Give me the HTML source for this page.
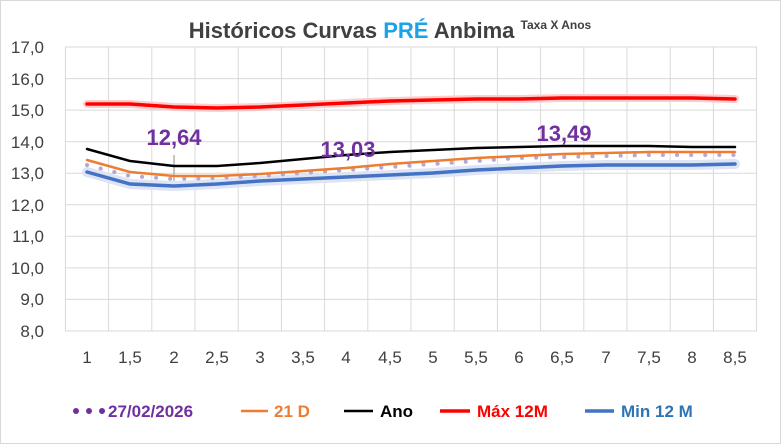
<!DOCTYPE html><html><head><style>body{margin:0;background:#fff}svg{display:block;font-family:"Liberation Sans",sans-serif}</style></head><body>
<svg width="781" height="444" viewBox="0 0 781 444">
<rect x="0.5" y="0.5" width="780" height="443" fill="#fff" stroke="#d9d9d9"/>
<text x="390" y="38" text-anchor="middle" font-size="22" font-weight="bold" fill="#404040">Históricos Curvas <tspan fill="#1aa3e8">PRÉ</tspan> Anbima <tspan font-size="12" dy="-9">Taxa X Anos</tspan></text>
<g stroke="#d9d9d9" stroke-width="1">
<line x1="65" x2="757" y1="47" y2="47"/><line x1="65" x2="757" y1="78.6" y2="78.6"/><line x1="65" x2="757" y1="110.1" y2="110.1"/><line x1="65" x2="757" y1="141.7" y2="141.7"/><line x1="65" x2="757" y1="173.2" y2="173.2"/><line x1="65" x2="757" y1="204.8" y2="204.8"/><line x1="65" x2="757" y1="236.3" y2="236.3"/><line x1="65" x2="757" y1="267.9" y2="267.9"/><line x1="65" x2="757" y1="299.4" y2="299.4"/><line x1="65" x2="757" y1="331" y2="331"/>
<line x1="65.4" x2="65.4" y1="47" y2="331"/><line x1="108.6" x2="108.6" y1="47" y2="331"/><line x1="151.8" x2="151.8" y1="47" y2="331"/><line x1="195" x2="195" y1="47" y2="331"/><line x1="238.2" x2="238.2" y1="47" y2="331"/><line x1="281.4" x2="281.4" y1="47" y2="331"/><line x1="324.6" x2="324.6" y1="47" y2="331"/><line x1="367.8" x2="367.8" y1="47" y2="331"/><line x1="411" x2="411" y1="47" y2="331"/><line x1="454.2" x2="454.2" y1="47" y2="331"/><line x1="497.4" x2="497.4" y1="47" y2="331"/><line x1="540.6" x2="540.6" y1="47" y2="331"/><line x1="583.8" x2="583.8" y1="47" y2="331"/><line x1="627" x2="627" y1="47" y2="331"/><line x1="670.2" x2="670.2" y1="47" y2="331"/><line x1="713.4" x2="713.4" y1="47" y2="331"/><line x1="756.6" x2="756.6" y1="47" y2="331"/>
</g>
<g font-size="17" fill="#404040" text-anchor="end">
<text x="44" y="53">17,0</text><text x="44" y="85">16,0</text><text x="44" y="116">15,0</text><text x="44" y="148">14,0</text><text x="44" y="179">13,0</text><text x="44" y="211">12,0</text><text x="44" y="242">11,0</text><text x="44" y="274">10,0</text><text x="44" y="305">9,0</text><text x="44" y="337">8,0</text>
</g>
<g font-size="17" fill="#404040" text-anchor="middle">
<text x="87" y="363">1</text><text x="130" y="363">1,5</text><text x="174" y="363">2</text><text x="217" y="363">2,5</text><text x="260" y="363">3</text><text x="303" y="363">3,5</text><text x="346" y="363">4</text><text x="390" y="363">4,5</text><text x="433" y="363">5</text><text x="476" y="363">5,5</text><text x="519" y="363">6</text><text x="562" y="363">6,5</text><text x="606" y="363">7</text><text x="649" y="363">7,5</text><text x="692" y="363">8</text><text x="735" y="363">8,5</text>
</g>
<line x1="174" x2="174" y1="155" y2="186" stroke="#a0a0a0" stroke-width="1.2"/>
<g fill="none" stroke-linejoin="round" stroke-linecap="round">
<polyline stroke="#ffcccc" stroke-width="8" points="87,104 130,104 174,107 217,108 260,107 303,105 346,103 390,101 433,100 476,99 519,99 562,98 606,98 649,98 692,98 735,99"/>
<polyline stroke="#ff0000" stroke-width="3.5" points="87,104 130,104 174,107 217,108 260,107 303,105 346,103 390,101 433,100 476,99 519,99 562,98 606,98 649,98 692,98 735,99"/>
<polyline stroke="#dde4f4" stroke-width="10" points="87,172 130,184 174,186 217,184 260,181 303,179 346,177 390,175 433,173 476,170 519,168 562,166 606,165 649,165 692,165 735,164"/>
<polyline stroke="#4472c4" stroke-width="3.5" points="87,172 130,184 174,186 217,184 260,181 303,179 346,177 390,175 433,173 476,170 519,168 562,166 606,165 649,165 692,165 735,164"/>
<polyline stroke="#b4a7d6" stroke-width="4" stroke-dasharray="0.1 14" points="87,165 130,176 174,179 217,178 260,176 303,173 346,170 390,167 433,164 476,161 519,158 562,157 606,156 649,155 692,155 735,155"/>
<polyline stroke="#ed7d31" stroke-width="2.5" points="87,160 130,172 174,176 217,176 260,174 303,171 346,168 390,164 433,161 476,158 519,156 562,154 606,153 649,152 692,152 735,152"/>
<polyline stroke="#000" stroke-width="2.5" points="87,149 130,161 174,166 217,166 260,163 303,159 346,155 390,152 433,150 476,148 519,147 562,146 606,146 649,146 692,147 735,147"/>
</g>
<g font-size="22" font-weight="bold" fill="#7030a0" text-anchor="middle">
<text x="174" y="145">12,64</text><text x="348" y="157">13,03</text><text x="564" y="141">13,49</text>
</g>
<g font-size="17" font-weight="bold">
<g fill="#7030a0"><circle cx="76" cy="411" r="3"/><circle cx="89" cy="411" r="3"/><circle cx="102" cy="411" r="3"/></g>
<text x="108" y="417" fill="#7030a0">27/02/2026</text>
<line x1="241" x2="268" y1="411" y2="411" stroke="#ed7d31" stroke-width="2.5"/>
<text x="274" y="417" fill="#ed7d31">21 D</text>
<line x1="344" x2="373" y1="411" y2="411" stroke="#000" stroke-width="2.5"/>
<text x="380" y="417" fill="#000">Ano</text>
<line x1="440" x2="470" y1="411" y2="411" stroke="#ff0000" stroke-width="3.5"/>
<text x="477" y="417" fill="#ff0000">Máx 12M</text>
<line x1="585" x2="614" y1="411" y2="411" stroke="#4472c4" stroke-width="3.5"/>
<text x="621" y="417" fill="#2e75b6">Min 12 M</text>
</g>
</svg></body></html>
